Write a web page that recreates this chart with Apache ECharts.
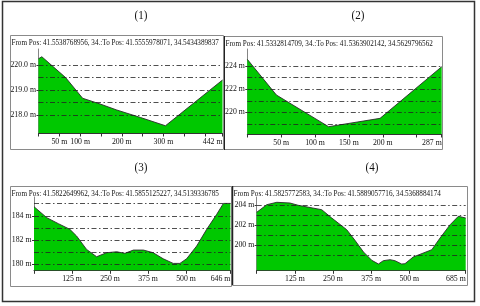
<!DOCTYPE html>
<html><head><meta charset="utf-8">
<script src="https://cdn.jsdelivr.net/npm/echarts@6/dist/echarts.min.js"></script>
<style>html,body{margin:0;padding:0;background:#fff}#c{width:480px;height:306px}</style>
</head><body><div id="c"></div>
<script>
// Panel titles and headers
const titles = ['(1)', '(2)', '(3)', '(4)'];
const headers = [
  'From Pos: 41.5538768956, 34.:To Pos: 41.5555978071, 34.5434389837',
  'From Pos: 41.5332814709, 34.:To Pos: 41.5363902142, 34.5629796562',
  'From Pos: 41.5822649962, 34.:To Pos: 41.5855125227, 34.5139336785',
  'From Pos: 41.5825772583, 34.:To Pos: 41.5889057716, 34.5368884174'
];
// Profile data: distance (m) and elevation (m)
const p1Dist = [0, 8, 65, 106, 148, 188, 245, 305, 442];
const p1Elev = [220.25, 220.33, 219.5, 218.67, 218.44, 218.2, 217.9, 217.57, 219.4];
const p2Dist = [0, 43, 120, 196, 287];
const p2Elev = [224.58, 221.5, 218.77, 219.49, 223.94];
const p3Dist = [0, 42, 80, 118, 140, 173, 206, 239, 272, 299, 327, 360, 392, 425, 458, 480, 502, 535, 568, 601, 623, 646];
const p3Elev = [184.75, 183.84, 183.35, 182.88, 182.33, 181.22, 180.62, 180.95, 181.03, 180.9, 181.17, 181.17, 180.95, 180.45, 180.07, 180.07, 180.45, 181.5, 182.88, 184.12, 185.02, 185.02];
const p4Dist = [0, 33, 66, 109, 136, 213, 246, 295, 322, 350, 377, 399, 415, 437, 453, 475, 486, 513, 574, 601, 634, 661, 685];
const p4Elev = [203.3, 204.06, 204.3, 204.23, 204.0, 203.56, 202.73, 201.56, 200.5, 199.33, 198.5, 198.13, 198.46, 198.56, 198.46, 198.13, 198.16, 198.83, 199.56, 200.73, 202.06, 202.9, 202.73];
// Axis values
const xMax = [442, 287, 646, 685];
const xLabels = [[50, 100, 200, 300, 442], [50, 100, 150, 200, 287], [125, 250, 375, 500, 646], [125, 250, 375, 500, 685]];
const xTicks = [[0, 50, 100, 150, 200, 250, 300, 350, 400, 442], [0, 50, 100, 150, 200, 250, 287], [0, 125, 250, 375, 500, 646], [0, 125, 250, 375, 500, 685]];
const yRange = [[217.28, 220.64], [218.14, 225.47], [179.5, 185.55], [197.5, 204.83]];
const yLabels = [[218, 219, 220], [220, 222, 224], [180, 182, 184], [200, 202, 204]];
const yDecimals = [1, 0, 0, 0];
const gridVals = [[218, 218.5, 219, 219.5, 220], [219, 220, 221, 222, 223, 224], [180, 181, 182, 183, 184, 185], [199, 200, 201, 202, 203, 204]];

const dists = [p1Dist, p2Dist, p3Dist, p4Dist];
const elevs = [p1Elev, p2Elev, p3Elev, p4Elev];

// Layout
const grids = [
  {left: 38.5, top: 49, width: 184, height: 84},
  {left: 247.3, top: 49, width: 194.4, height: 85},
  {left: 34, top: 197, width: 196.4, height: 73.3},
  {left: 256.7, top: 197, width: 209, height: 73.3}
];
const boxes = [[10, 35, 213, 114], [224, 36, 218, 113], [10, 186, 221, 100], [232, 186, 235, 99]];
const titlePos = [[141, 16], [358, 16], [141, 168], [372, 168]];
const SERIF = '"Liberation Serif", "DejaVu Serif", serif';
const FS = 7.8;

const xAxis = [], yAxis = [], series = [], graphic = [];
for (let i = 0; i < 4; i++) {
  xAxis.push({
    gridIndex: i, type: 'value', min: 0, max: xMax[i],
    axisLine: {show: true, onZero: false, lineStyle: {color: '#333', width: 1}},
    axisTick: {show: true, customValues: xTicks[i], length: 3.5, lineStyle: {color: '#333'}},
    axisLabel: {customValues: xLabels[i], formatter: v => v + ' m', fontFamily: SERIF, fontSize: FS, color: '#111', margin: 5, alignMaxLabel: 'right'},
    splitLine: {show: false}
  });
  yAxis.push({
    gridIndex: i, type: 'value', min: yRange[i][0], max: yRange[i][1],
    axisLine: {show: true, lineStyle: {color: '#666', width: 0.8}},
    axisTick: {show: true, customValues: yLabels[i], length: 2, lineStyle: {color: '#333'}},
    axisLabel: {customValues: yLabels[i], formatter: v => v.toFixed(yDecimals[i]) + ' m', fontFamily: SERIF, fontSize: FS, color: '#111', margin: 2.5},
    splitLine: {show: false}
  });
  series.push({
    type: 'line', xAxisIndex: i, yAxisIndex: i,
    data: dists[i].map((d, k) => [d, elevs[i][k]]),
    showSymbol: false, symbol: 'none', animation: false,
    lineStyle: {color: '#2a2a2a', width: 0.9},
    areaStyle: {color: '#00c800', opacity: 1, origin: 'start'},
    markLine: {
      silent: true, symbol: 'none', animation: false,
      label: {show: false},
      lineStyle: {color: '#222', type: [5, 2.5, 1.5, 2.5], width: 0.8},
      data: gridVals[i].map(v => ({yAxis: v}))
    }
  });
  const b = boxes[i];
  graphic.push({type: 'rect', shape: {x: b[0] + 0.5, y: b[1] + 0.5, width: b[2], height: b[3]}, style: {fill: 'none', stroke: '#8a8a8a', lineWidth: 1}, z: 100});
  graphic.push({type: 'text', x: b[0] + 1.5, y: b[1] + 7.5, scaleX: 0.78, style: {text: headers[i], font: '9.2px ' + SERIF, fill: '#111', textVerticalAlign: 'middle'}, z: 100});
  graphic.push({type: 'text', x: titlePos[i][0], y: titlePos[i][1], scaleX: 0.85, style: {text: titles[i], font: '13px ' + SERIF, fill: '#111', textAlign: 'center', textVerticalAlign: 'middle'}, z: 100});
}
graphic.push({type: 'line', shape: {x1: 224.5, y1: 36, x2: 224.5, y2: 150}, style: {stroke: '#222', lineWidth: 1}, z: 101});
graphic.push({type: 'line', shape: {x1: 232.5, y1: 186, x2: 232.5, y2: 285}, style: {stroke: '#222', lineWidth: 1.5}, z: 101});
graphic.push({type: 'rect', shape: {x: 2.5, y: 1.5, width: 472, height: 300}, style: {fill: 'none', stroke: '#333', lineWidth: 1.5}, z: 101});

const chart = echarts.init(document.getElementById('c'), null, {renderer: 'canvas'});
chart.setOption({
  backgroundColor: '#fff',
  animation: false,
  grid: grids.map(g => Object.assign({containLabel: false}, g)),
  xAxis, yAxis, series, graphic
});
</script></body></html>
